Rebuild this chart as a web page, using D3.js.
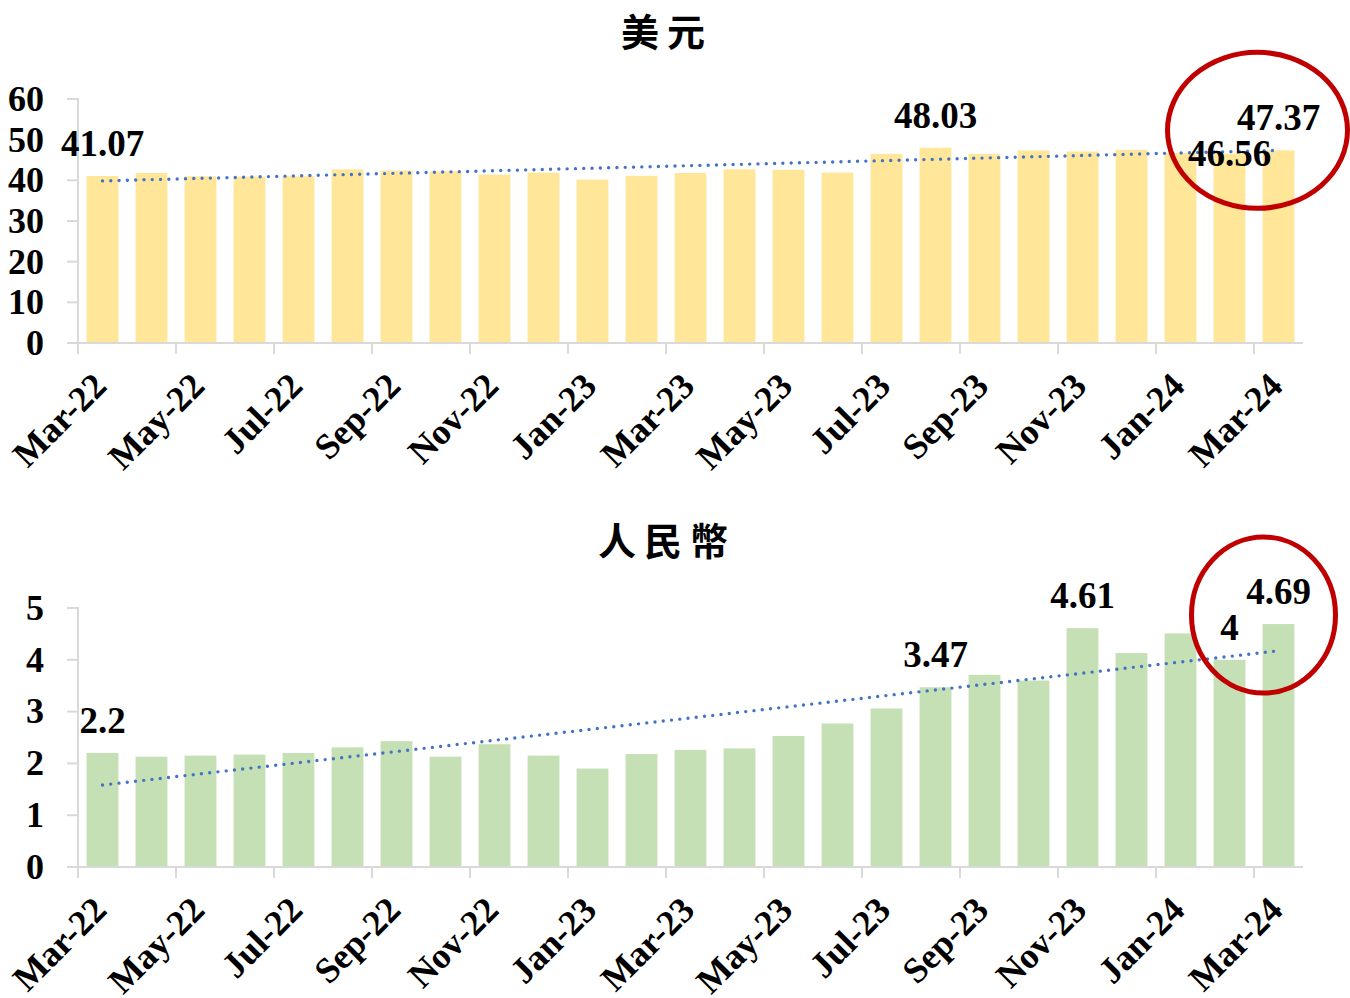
<!DOCTYPE html>
<html lang="zh-Hant">
<head>
<meta charset="utf-8">
<title>美元 / 人民幣</title>
<script src="https://cdn.jsdelivr.net/npm/d3@7/dist/d3.min.js"></script>
<style>
  body { margin: 0; background: #fff; }
  .tick-label { font-family: "Liberation Serif", "Times New Roman", serif; font-weight: bold; font-size: 36px; fill: #000; }
  .val-label { font-family: "Liberation Serif", "Times New Roman", serif; font-weight: bold; font-size: 37px; fill: #000; }
  .title { font-family: "Noto Sans CJK TC", sans-serif; font-weight: 700; font-size: 38px; fill: #000; }
  .axis-line { stroke: #d9d9d9; stroke-width: 2; fill: none; }
</style>
</head>
<body>
<script>
// months Mar-22 .. Mar-24
var months = ["Mar-22","Apr-22","May-22","Jun-22","Jul-22","Aug-22","Sep-22","Oct-22","Nov-22","Dec-22",
              "Jan-23","Feb-23","Mar-23","Apr-23","May-23","Jun-23","Jul-23","Aug-23","Sep-23","Oct-23",
              "Nov-23","Dec-23","Jan-24","Feb-24","Mar-24"];

var usdValues = [41.07, 41.8, 41.0, 40.9, 41.0, 42.7, 42.4, 42.2, 41.4, 41.9,
                 40.2, 41.1, 41.8, 42.7, 42.6, 41.9, 46.5, 48.03, 46.5, 47.35,
                 47.1, 47.5, 46.7, 46.56, 47.37];
var cnyValues = [2.2, 2.13, 2.15, 2.17, 2.2, 2.31, 2.43, 2.13, 2.37, 2.15,
                 1.9, 2.18, 2.26, 2.29, 2.53, 2.77, 3.06, 3.47, 3.71, 3.6,
                 4.61, 4.13, 4.51, 4.0, 4.69];

var usdTicks = [0, 10, 20, 30, 40, 50, 60];
var cnyTicks = [0, 1, 2, 3, 4, 5];

// which bars carry a value label
var usdLabelIdx = [0, 17, 23, 24];
var cnyLabelIdx = [0, 17, 20, 23, 24];

var W = 1350, H = 998;
var svg = d3.select("body").append("svg").attr("width", W).attr("height", H);

function panel(opts) {
  var g = svg.append("g");
  var x = d3.scaleBand().domain(months).range([78, 1303]).paddingInner(0.35).paddingOuter(0.175);
  var y = d3.scaleLinear().domain([0, opts.max]).range([opts.bottom, opts.top]);
  var half = x.bandwidth() / 2;
  var gap = (x.step() - x.bandwidth()) / 2;

  // title
  g.append("text").attr("class", "title")
    .attr("x", 663 + opts.spacing / 2).attr("y", opts.titleY)
    .attr("text-anchor", "middle")
    .style("letter-spacing", opts.spacing + "px")
    .text(opts.title);

  // bars
  g.selectAll("rect.bar").data(opts.values).enter().append("rect")
    .attr("x", function(d, i) { return x(months[i]); })
    .attr("y", function(d) { return y(d); })
    .attr("width", x.bandwidth())
    .attr("height", function(d) { return y(0) - y(d); })
    .attr("fill", opts.color);

  // y axis
  g.append("line").attr("class", "axis-line")
    .attr("x1", 78).attr("x2", 78).attr("y1", y(opts.max) - 1).attr("y2", y(0) + 10);
  g.selectAll("line.ytick").data(opts.ticks).enter().append("line").attr("class", "axis-line")
    .attr("x1", 67).attr("x2", 78).attr("y1", function(d) { return y(d); }).attr("y2", function(d) { return y(d); });
  g.selectAll("text.ylab").data(opts.ticks).enter().append("text").attr("class", "tick-label")
    .attr("x", 44).attr("y", function(d) { return y(d); })
    .attr("dy", "0.33em").attr("text-anchor", "end")
    .text(function(d) { return d; });

  // x axis
  g.append("line").attr("class", "axis-line")
    .attr("x1", 67).attr("x2", 1303).attr("y1", y(0)).attr("y2", y(0));
  var even = months.filter(function(d, i) { return i % 2 === 0; });
  g.selectAll("line.xtick").data(even).enter().append("line").attr("class", "axis-line")
    .attr("x1", function(d) { return x(d) - gap; }).attr("x2", function(d) { return x(d) - gap; })
    .attr("y1", y(0)).attr("y2", y(0) + 11);
  g.selectAll("text.xlab").data(even).enter().append("text").attr("class", "tick-label")
    .attr("text-anchor", "end")
    .attr("transform", function(d) { return "translate(" + (x(d) + half + 6) + "," + (y(0) + 45) + ") rotate(-45)"; })
    .text(function(d) { return d; });

  // linear trend line
  var idx = d3.range(opts.values.length);
  var mx = d3.mean(idx), my = d3.mean(opts.values);
  var slope = d3.sum(idx, function(i) { return (i - mx) * (opts.values[i] - my); }) /
              d3.sum(idx, function(i) { return (i - mx) * (i - mx); });
  var icpt = my - slope * mx;
  var line = d3.line()
    .x(function(i) { return x(months[i]) + half; })
    .y(function(i) { return y(icpt + slope * i); });
  g.append("path").attr("d", line([0, opts.values.length - 1]))
    .attr("fill", "none").attr("stroke", "#4472C4").attr("stroke-width", 3.4)
    .attr("stroke-linecap", "round").attr("stroke-dasharray", "0 8.3");

  // value labels
  g.selectAll("text.val").data(opts.labelIdx).enter().append("text").attr("class", "val-label")
    .attr("text-anchor", "middle")
    .attr("x", function(i) { return x(months[i]) + half; })
    .attr("y", function(i) { return y(opts.values[i]) + (opts.below.indexOf(i) >= 0 ? 12 : -20); })
    .text(function(i) { return opts.values[i]; });

  // red highlight ellipse around the latest values
  var last = opts.values.length - 1;
  g.append("ellipse")
    .attr("cx", x(months[last]) + half + opts.ell.dx)
    .attr("cy", y(opts.values[last]) + opts.ell.dy)
    .attr("rx", opts.ell.rx).attr("ry", opts.ell.ry)
    .attr("fill", "none").attr("stroke", "#C00000").attr("stroke-width", 5);
}

panel({ title: "美元", titleY: 46, spacing: 8, values: usdValues, max: 60, ticks: usdTicks,
        top: 99, bottom: 343, color: "#FFE699", labelIdx: usdLabelIdx, below: [23],
        ell: { dx: -21, dy: -20, rx: 90, ry: 78 } });

panel({ title: "人民幣", titleY: 555, spacing: 8, values: cnyValues, max: 5, ticks: cnyTicks,
        top: 608, bottom: 867, color: "#C5E0B4", labelIdx: cnyLabelIdx, below: [],
        ell: { dx: -15, dy: -9, rx: 72, ry: 78 } });
</script>
</body>
</html>
